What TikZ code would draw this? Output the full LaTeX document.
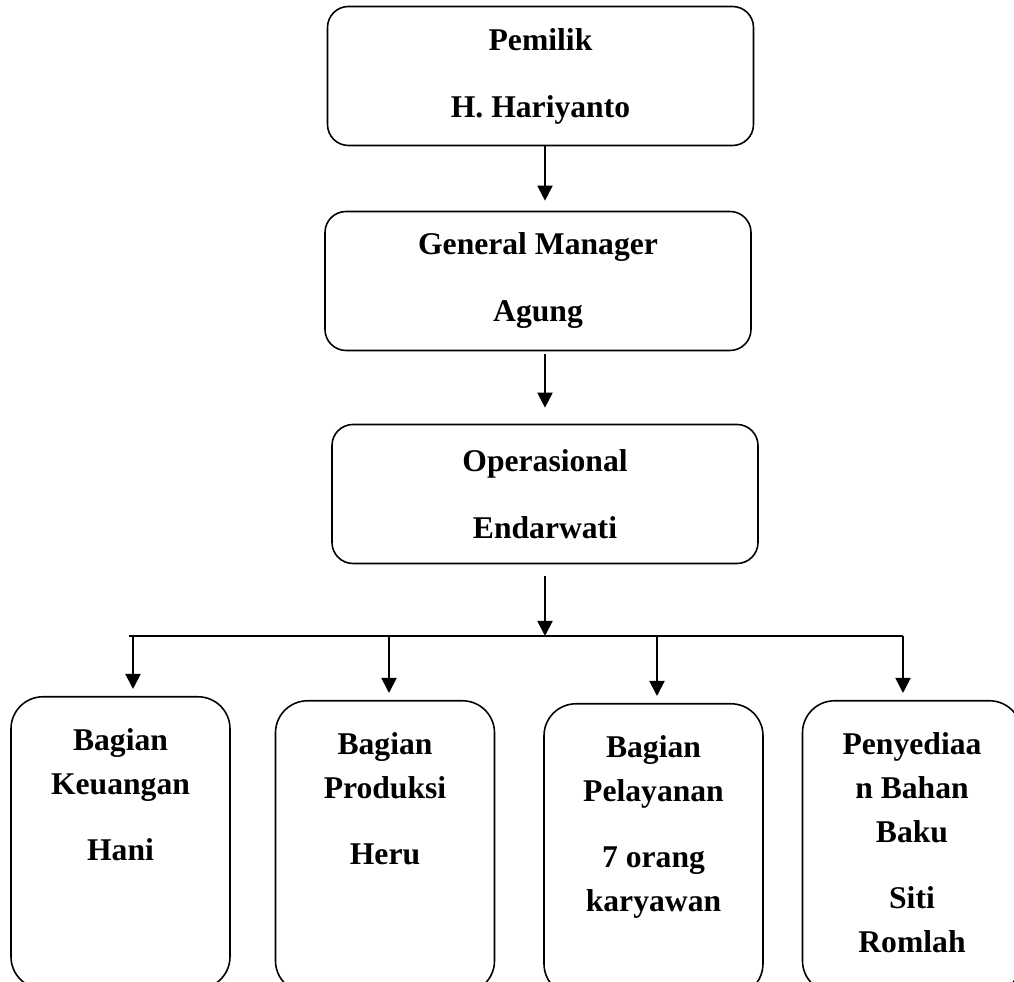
\documentclass[tikz,border=0pt]{standalone}
\usepackage{fontspec}
\setmainfont{Liberation Serif}
\usetikzlibrary{positioning,arrows.meta}

\begin{document}
\begin{tikzpicture}[
    every node/.style={font=\bfseries\fontsize{18}{25}\selectfont, align=center},
    topbox/.style={draw, line width=0.9pt, rounded corners=0.42cm,
        minimum width=8.52cm, minimum height=2.78cm, inner sep=0pt},
    unitbox/.style={draw, line width=0.9pt, rounded corners=0.64cm,
        minimum width=4.38cm, minimum height=5.84cm, anchor=north, inner sep=0pt},
    unittext/.style={inner sep=0pt},
    arr/.style={-{Triangle[length=0.3cm,width=0.3cm]}, line width=1.1pt}]
            \useasboundingbox (0,0) rectangle (20.28,19.64);
            \clip (0,0) rectangle (20.28,19.64);

            \node[topbox] (pemilik) at (10.81,18.12) {Pemilik\\[0.46cm]H. Hariyanto};
            \node[topbox] (gm) at (10.76,14.02) {General Manager\\[0.46cm]Agung};
            \node[topbox] (ops) at (10.90,9.76) {Operasional\\[0.46cm]Endarwati};

             %bagian
            \node[unitbox] (keu) at (2.41,5.72) {};
            \node[unitbox] (prod) at (7.70,5.64) {};
            \node[unitbox] (pel) at (13.07,5.58) {};
            \node[unitbox] (bahan) at (18.24,5.64) {};

            \node[unittext, below=0.64cm of keu.north] (keutext) {Bagian\\Keuangan\\[0.44cm]Hani};
            \node[unittext, below=0.64cm of prod.north] (prodtext) {Bagian\\Produksi\\[0.44cm]Heru};
            \node[unittext, below=0.64cm of pel.north] (peltext) {Bagian\\Pelayanan\\[0.44cm]7 orang\\karyawan};
            \node[unittext, below=0.64cm of bahan.north] (bahantext) {Penyediaa\\n Bahan\\Baku\\[0.44cm]Siti\\Romlah};

             %arrows
            \draw[arr, shorten >=0.2cm] (pemilik.south -| ops) -- (gm.north -| ops);
            \draw[arr, shorten <=0.06cm, shorten >=0.32cm] (gm.south -| ops) -- (ops.north);

            \coordinate (barL) at (2.58,6.92);
            \coordinate (barR) at (18.06,6.92);
            \draw[line width=1.1pt] (barL) -- (barR);
            \draw[arr, shorten <=0.24cm] (ops.south) -- (ops.south |- barL);

                 \foreach \x/\b in {2.66/keu, 7.78/prod, 13.14/pel, 18.06/bahan}
                 {
                     \coordinate (br-\b) at (\x,6.92);
                     \draw[arr, shorten >=0.14cm] (br-\b) -- (br-\b |- \b.north);
                 }
\end{tikzpicture}
\end{document}
